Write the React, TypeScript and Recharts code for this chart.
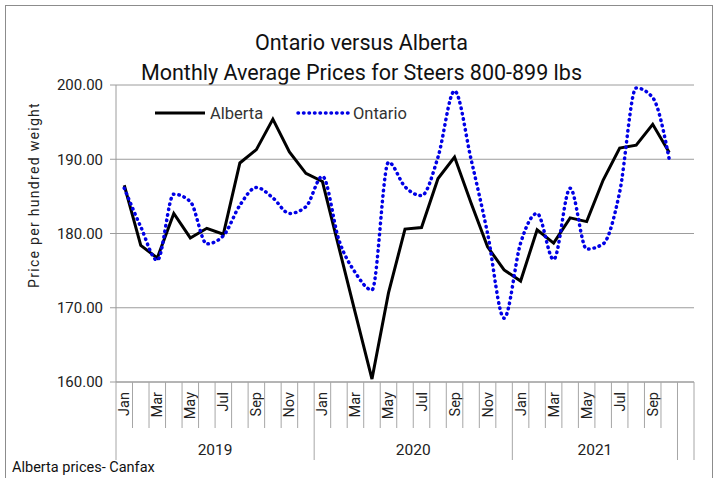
import React from "react";
import { LineChart, Line, XAxis, YAxis, CartesianGrid, Legend } from "recharts";

// monthly prices, Jan 2019 - Oct 2021
const monthNames = ["Jan", "Feb", "Mar", "Apr", "May", "Jun", "Jul", "Aug", "Sep", "Oct", "Nov", "Dec"];
const years = ["2019", "2020", "2021"];
const monthsPerYear = [12, 12, 10];

const alberta = [
  186.5, 178.4, 176.7, 182.7, 179.4, 180.7, 179.9, 189.5, 191.3, 195.4, 191.0, 188.1,
  187.0, 178.1, 169.2, 160.4, 172.0, 180.6, 180.8, 187.4, 190.3, 184.1, 178.2, 175.1,
  173.6, 180.5, 178.7, 182.1, 181.6, 187.2, 191.5, 191.9, 194.7, 190.9,
];
const ontario = [
  186.1, 180.9, 176.4, 185.3, 184.3, 178.6, 179.7, 183.8, 186.2, 184.8, 182.7, 183.6,
  187.7, 179.1, 174.7, 172.4, 189.6, 186.3, 185.1, 190.3, 199.2, 190.0, 180.0, 168.6,
  178.7, 182.7, 176.5, 186.1, 177.9, 178.6, 185.6, 199.6, 198.3, 190.0,
];
const yTicks = [160, 170, 180, 190, 200];

const FONT = "'Roboto', sans-serif";

// one blank category at the end, like the original sheet
const totalCats = monthsPerYear.reduce((a, b) => a + b, 0) + 1;
const data = Array.from({ length: totalCats }, (_, i) => ({
  x: i,
  month: i < alberta.length ? monthNames[i % 12] : "",
  alberta: alberta[i],
  ontario: ontario[i],
}));

// boundaries (category index) where a year block starts/ends
const yearBounds: number[] = [0];
monthsPerYear.forEach((n) => yearBounds.push(yearBounds[yearBounds.length - 1] + n));
yearBounds.push(totalCats);
const yearCenters = years.map((_, k) => (yearBounds[k] + yearBounds[k + 1]) / 2);

const MonthTick = (props: any) => {
  const { x, y, payload, width, visibleTicksCount } = props;
  const i = payload.value as number;
  const bw = width / visibleTicksCount;
  const left = x - bw / 2;
  const right = x + bw / 2;
  const row = data[i];
  const showLabel = row && row.month && i % 2 === 0;
  const els: React.ReactNode[] = [];
  const isYearLine = yearBounds.includes(i);
  els.push(<line key="l" x1={left} x2={left} y1={y} y2={y + (isYearLine ? 78 : 46)} stroke="#a6a6a6" />);
  if (i === totalCats - 1) {
    els.push(<line key="r" x1={right} x2={right} y1={y} y2={y + 78} stroke="#a6a6a6" />);
  }
  if (showLabel) {
    els.push(
      <text
        key="t"
        transform={`translate(${x + 5}, ${y + 10}) rotate(-90)`}
        textAnchor="end"
        fontSize={14.5}
        fontFamily={FONT}
        fill="#222"
      >
        {row.month}
      </text>
    );
  }
  yearCenters.forEach((c, k) => {
    let cx: number | null = null;
    if (Math.abs(c - (i + 0.5)) < 0.01) cx = right;
    else if (Math.abs(c - i) < 0.01) cx = left;
    if (cx !== null) {
      els.push(
        <text key={"y" + k} x={cx} y={y + 73} textAnchor="middle" fontSize={15.5} fontFamily={FONT} fill="#222">
          {years[k]}
        </text>
      );
    }
  });
  return <g>{els}</g>;
};

const legendItems = [
  { name: "Alberta", color: "#000", dash: undefined, width: 3 },
  { name: "Ontario", color: "#0000e6", dash: "0.5 5", width: 3.5 },
];

const LegendContent = () => (
  <svg width={280} height={24}>
    {legendItems.map((it, k) => (
      <g key={it.name} transform={`translate(${k * 143}, 0)`}>
        <line
          x1={5}
          x2={55}
          y1={12}
          y2={12}
          stroke={it.color}
          strokeWidth={it.width}
          strokeDasharray={it.dash}
          strokeLinecap={it.dash ? "round" : "butt"}
        />
        <text x={60} y={18} fontSize={16.5} fontFamily={FONT} fill="#333">
          {it.name}
        </text>
      </g>
    ))}
  </svg>
);

const YLabel = () => (
  <text
    transform="translate(39, 195) rotate(-90)"
    textAnchor="middle"
    fontSize={14}
    fontFamily={FONT}
    letterSpacing={1.3}
    fill="#222"
  >
    Price per hundred weight
  </text>
);

export default function App() {
  return (
    <div style={{ position: "absolute", left: 0, top: 0, width: 723, height: 478, background: "#fff", overflow: "hidden" }}>
      <div
        style={{
          position: "absolute",
          left: 5,
          top: 5,
          width: 708,
          height: 480,
          border: "1px solid #8c8c8c",
          boxSizing: "border-box",
        }}
      />
      <div
        style={{
          position: "absolute",
          left: 0,
          width: 723,
          top: 28,
          textAlign: "center",
          fontFamily: FONT,
          fontSize: 21.5,
          lineHeight: "30px",
          color: "#111",
        }}
      >
        <div>Ontario versus Alberta</div>
        <div>Monthly Average Prices for Steers 800-899 lbs</div>
      </div>
      <LineChart
        width={723}
        height={478}
        data={data}
        margin={{ top: 85, right: 29, bottom: 6, left: 0 }}
      >
        <CartesianGrid vertical={false} stroke="#9c9c9c" />
        <XAxis
          dataKey="x"
          type="number"
          domain={[-0.5, totalCats - 0.5]}
          ticks={data.map((d) => d.x)}
          interval={0}
          tickLine={false}
          tickSize={0}
          tickMargin={0}
          height={90}
          stroke="#9c9c9c"
          tick={<MonthTick />}
        />
        <YAxis
          domain={[160, 200]}
          ticks={yTicks}
          width={116}
          tickSize={6}
          tickMargin={7}
          stroke="#9c9c9c"
          tickFormatter={(v: number) => v.toFixed(2)}
          tick={{ fontSize: 15, fill: "#222", fontFamily: FONT }}
          label={<YLabel />}
        />
        <Legend
          layout="vertical"
          align="center"
          verticalAlign="middle"
          wrapperStyle={{ top: 101, left: 150, width: 280 }}
          content={<LegendContent />}
        />
        <Line
          dataKey="alberta"
          type="linear"
          stroke="#000"
          strokeWidth={3}
          dot={false}
          isAnimationActive={false}
        />
        <Line
          dataKey="ontario"
          type="monotone"
          stroke="#0000e6"
          strokeWidth={3.5}
          strokeDasharray="0.5 5"
          strokeLinecap="round"
          dot={false}
          isAnimationActive={false}
        />
      </LineChart>
      <div
        style={{
          position: "absolute",
          left: 12,
          top: 459,
          fontFamily: FONT,
          fontSize: 14.5,
          color: "#111",
        }}
      >
        Alberta prices- Canfax
      </div>
    </div>
  );
}
